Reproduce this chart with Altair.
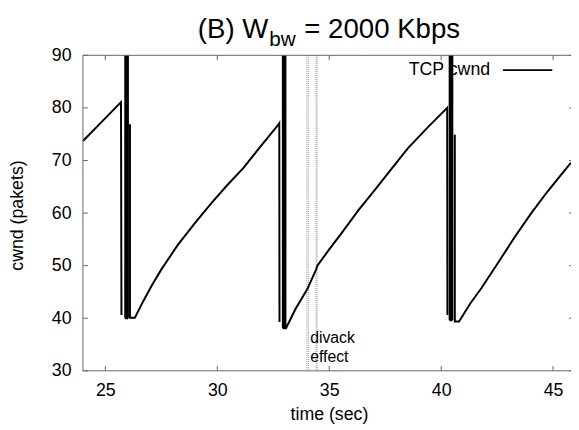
import altair as alt
import pandas as pd

# ---- data ----
time = [24.00, 24.85, 25.70, 25.72,
        25.89, 25.89, 25.93, 25.93, 25.97, 25.97, 26.01, 26.01,
        26.10, 26.10, 26.32, 26.70, 27.10, 27.49, 28.23, 29.00, 29.70, 30.40, 31.17,
        31.90, 32.63, 32.77, 32.78,
        32.93, 32.93, 32.97, 32.97, 33.01, 33.01, 33.045, 33.045,
        33.07, 33.50, 34.03, 34.30, 34.42, 34.47, 35.00, 35.57, 36.30, 37.04, 37.80,
        38.51, 39.40, 40.27, 40.28,
        40.38, 40.38, 40.42, 40.42, 40.46, 40.46, 40.50, 40.50,
        40.61, 40.61, 40.80, 41.30, 41.81, 42.55, 43.28, 44.01, 44.75, 45.30, 45.80]
cwnd = [73.7, 77.4, 81.1, 40.6,
        40.0, 100, 100, 40.0, 40.0, 100, 100, 40.0,
        76.9, 40.1, 40.1, 43.3, 46.4, 49.2, 53.9, 58.1, 61.7, 65.1, 68.6,
        72.5, 76.3, 77.1, 39.3,
        38.1, 100, 100, 38.1, 38.1, 100, 100, 38.1,
        38.1, 41.8, 45.6, 48.2, 49.3, 50.0, 53.1, 56.3, 60.5, 64.4, 68.5,
        72.3, 76.3, 80.0, 40.6,
        39.6, 100, 100, 39.6, 39.6, 100, 100, 39.6,
        74.9, 39.4, 39.4, 42.8, 45.8, 50.6, 55.4, 59.9, 64.1, 67.0, 69.6]
seg = [0, 0, 0, 0,
       1, 1, 1, 1, 1, 1, 1, 1,
       2, 2, 2, 2, 2, 2, 2, 2, 2, 2, 2,
       2, 2, 2, 2,
       3, 3, 3, 3, 3, 3, 3, 3,
       3, 3, 3, 3, 3, 3, 3, 3, 3, 3, 3,
       3, 3, 3, 3,
       4, 4, 4, 4, 4, 4, 4, 4,
       5, 5, 5, 5, 5, 5, 5, 5, 5, 5, 5]

x_ticks = [25, 30, 35, 40, 45]
y_ticks = [30, 40, 50, 60, 70, 80, 90]
divack_lines = [34.00, 34.07, 34.41, 34.46]
divack_label = ["divack", "effect"]
divack_pos = [34.15, 35.2]
legend_label = "TCP cwnd"
title_main = "(B) W"
title_sub = "bw"
title_rest = "= 2000 Kbps"

W, H = 495, 320
FONT = "Liberation Sans"
FRAME = "#666666"

df = pd.DataFrame({"t": time, "cwnd": cwnd, "seg": seg})
df["i"] = range(len(df))

xs = alt.Scale(domain=[24, 45.8], nice=False, zero=False)
ys = alt.Scale(domain=[30, 90], nice=False, zero=False)

xaxis = alt.Axis(
    values=x_ticks, title="time (sec)", ticks=False, domain=False, grid=False,
    labelFontSize=18, labelFont=FONT, labelColor="black", labelPadding=11,
    titleFontSize=18, titleFont=FONT, titleFontWeight="normal", titleColor="black",
    titleX=W / 2 + 2, titleY=49, titleBaseline="alphabetic", titleAlign="center")
yaxis = alt.Axis(
    values=y_ticks, title="cwnd (pakets)", ticks=False, domain=False, grid=False,
    labelFontSize=18, labelFont=FONT, labelColor="black", labelPadding=12,
    titleFontSize=18, titleFont=FONT, titleFontWeight="normal", titleColor="black",
    titleX=-66, titleY=H / 2 + 2, titleAngle=-90, titleBaseline="middle",
    titleAlign="center")


def X(f):
    return alt.X(f, scale=xs, axis=xaxis)


def Y(f):
    return alt.Y(f, scale=ys, axis=yaxis)


line = alt.Chart(df).mark_line(color="black", strokeWidth=2, clip=True).encode(
    x=X("t:Q"), y=Y("cwnd:Q"), detail="seg:N", order="i:Q")

dv = alt.Chart(pd.DataFrame({"t": divack_lines})).mark_rule(
    color="#999999", strokeWidth=1, strokeDash=[1, 1]).encode(
    x=X("t:Q"), y=alt.value(0), y2=alt.value(H))

dv_text = alt.Chart(pd.DataFrame({"t": [divack_pos[0]], "cwnd": [divack_pos[1]],
                                  "s": ["\n".join(divack_label)]})).mark_text(
    align="left", baseline="alphabetic", fontSize=16, font=FONT, color="black",
    lineBreak="\n", lineHeight=19).encode(
    x=X("t:Q"), y=Y("cwnd:Q"), text="s:N")

one = pd.DataFrame({"a": [0]})

frame_top = alt.Chart(one).mark_rule(color=FRAME).encode(
    x=alt.value(0), x2=alt.value(W + 5), y=alt.value(0))
frame_bot = alt.Chart(one).mark_rule(color=FRAME).encode(
    x=alt.value(0), x2=alt.value(W + 5), y=alt.value(H))
frame_left = alt.Chart(one).mark_rule(color=FRAME).encode(
    x=alt.value(0), y=alt.value(0), y2=alt.value(H))

xt = pd.DataFrame({"t": x_ticks})
yt = pd.DataFrame({"cwnd": y_ticks})
tick_b = alt.Chart(xt).mark_rule(color=FRAME).encode(
    x=X("t:Q"), y=alt.value(H), y2=alt.value(H - 5))
tick_t = alt.Chart(xt).mark_rule(color=FRAME).encode(
    x=X("t:Q"), y=alt.value(0), y2=alt.value(5))
tick_l = alt.Chart(yt).mark_rule(color=FRAME).encode(
    y=Y("cwnd:Q"), x=alt.value(0), x2=alt.value(5))
tick_r = alt.Chart(yt).mark_rule(color=FRAME).encode(
    y=Y("cwnd:Q"), x=alt.value(W - 2), x2=alt.value(W + 3))

leg_text = alt.Chart(one).mark_text(
    align="right", baseline="middle", fontSize=18, font=FONT, color="black").encode(
    x=alt.value(413), y=alt.value(15), text=alt.value(legend_label))
leg_line = alt.Chart(one).mark_rule(color="black", strokeWidth=2).encode(
    x=alt.value(426), x2=alt.value(476), y=alt.value(15))

t1 = alt.Chart(one).mark_text(
    align="right", baseline="alphabetic", fontSize=28, font=FONT, color="black").encode(
    x=alt.value(188), y=alt.value(-18), text=alt.value(title_main))
t2 = alt.Chart(one).mark_text(
    align="left", baseline="alphabetic", fontSize=21, font=FONT, color="black").encode(
    x=alt.value(189), y=alt.value(-9.5), text=alt.value(title_sub))
t3 = alt.Chart(one).mark_text(
    align="right", baseline="alphabetic", fontSize=28, font=FONT, color="black").encode(
    x=alt.value(382.5), y=alt.value(-18), text=alt.value(title_rest))

chart = alt.layer(
    dv, line, dv_text, frame_top, frame_bot, frame_left,
    tick_b, tick_t, tick_l, tick_r, leg_text, leg_line, t1, t2, t3
).properties(
    width=W, height=H,
    autosize=alt.AutoSizeParams(type="none"),
    padding={"left": 76, "top": 45, "right": 0, "bottom": 57},
    background="white",
).configure_view(stroke=None)

chart.save("out.html", embed_options={"renderer": "svg", "actions": False})
